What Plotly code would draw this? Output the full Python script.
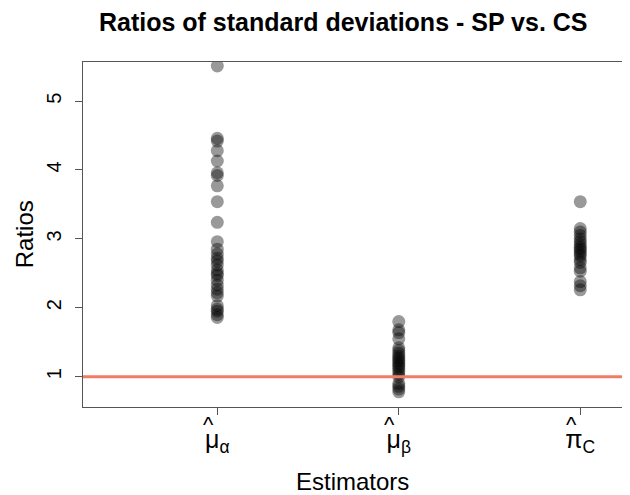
import plotly.graph_objects as go

categories = [1, 2, 3]
tick_labels = ["μ<sub>α</sub>", "μ<sub>β</sub>", "π<sub>C</sub>"]

mu_alpha = [5.51, 4.46, 4.42, 4.28, 4.13, 3.96, 3.92, 3.77, 3.54, 3.24, 2.96, 2.85,
            2.78, 2.72, 2.68, 2.62, 2.55, 2.50, 2.47, 2.40, 2.33, 2.27, 2.22, 2.17,
            2.03, 1.98, 1.95, 1.90, 1.86]
mu_beta = [1.80, 1.68, 1.64, 1.55, 1.42, 1.38, 1.34, 1.30, 1.27, 1.24, 1.21, 1.18,
           1.15, 1.12, 1.08, 1.04, 1.00, 0.90, 0.86, 0.82, 0.78]
pi_C = [3.54, 3.15, 3.10, 3.05, 3.00, 2.96, 2.92, 2.88, 2.85, 2.82, 2.78, 2.75,
        2.70, 2.66, 2.58, 2.53, 2.38, 2.32, 2.26]
reference_ratio = 1

FONT = "Liberation Sans, Arial, Helvetica, sans-serif"

fig = go.Figure()
for cat, vals in zip(categories, [mu_alpha, mu_beta, pi_C]):
    fig.add_trace(go.Scatter(
        x=[cat] * len(vals), y=vals, mode="markers",
        marker=dict(size=13, color="rgba(0,0,0,0.4)", line=dict(width=0)),
        showlegend=False, hoverinfo="y"))

fig.add_hline(y=reference_ratio, line=dict(color="#F27B63", width=3), layer="above")

hats = [dict(text="^", xref="x", yref="paper", x=cat, y=-0.051, xshift=-9,
             xanchor="center", yanchor="middle", showarrow=False,
             font=dict(size=22, family=FONT)) for cat in categories]

# the page body has an 8px default margin (top/left), so the figure is 8px smaller
fig.update_layout(
    width=622, height=487,
    margin=dict(l=75, r=8, t=54, b=88),
    paper_bgcolor="white", plot_bgcolor="white",
    font=dict(family=FONT, color="black"),
    title=dict(text="<b>Ratios of standard deviations - SP vs. CS</b>",
               x=0.539, xanchor="center", y=0.971, yanchor="middle",
               font=dict(size=25, family=FONT, color="black")),
    xaxis=dict(range=[0.26, 3.23], tickvals=categories, ticktext=tick_labels,
               showgrid=False, zeroline=False, showline=True, mirror=True,
               linecolor="#555555", linewidth=1, ticks="outside", ticklen=7,
               tickcolor="#555555", tickfont=dict(size=25, family=FONT),
               ticklabelstandoff=3, automargin=False),
    yaxis=dict(range=[0.56, 5.567], tickvals=[1, 2, 3, 4, 5],
               showgrid=False, zeroline=False, showline=True, mirror=True,
               linecolor="#555555", linewidth=1, ticks="outside", ticklen=7,
               tickcolor="#555555", tickangle=-90, tickfont=dict(size=20, family=FONT),
               ticklabelstandoff=6, automargin=False),
    annotations=hats + [
        dict(text="Estimators", xref="paper", yref="paper", x=0.5, y=-0.216,
             xanchor="center", yanchor="middle", showarrow=False,
             font=dict(size=24, family=FONT)),
        dict(text="Ratios", xref="paper", yref="paper", x=-0.108, y=0.5,
             textangle=-90, xanchor="center", yanchor="middle", showarrow=False,
             font=dict(size=24, family=FONT)),
    ],
)

fig.write_html("out.html")
